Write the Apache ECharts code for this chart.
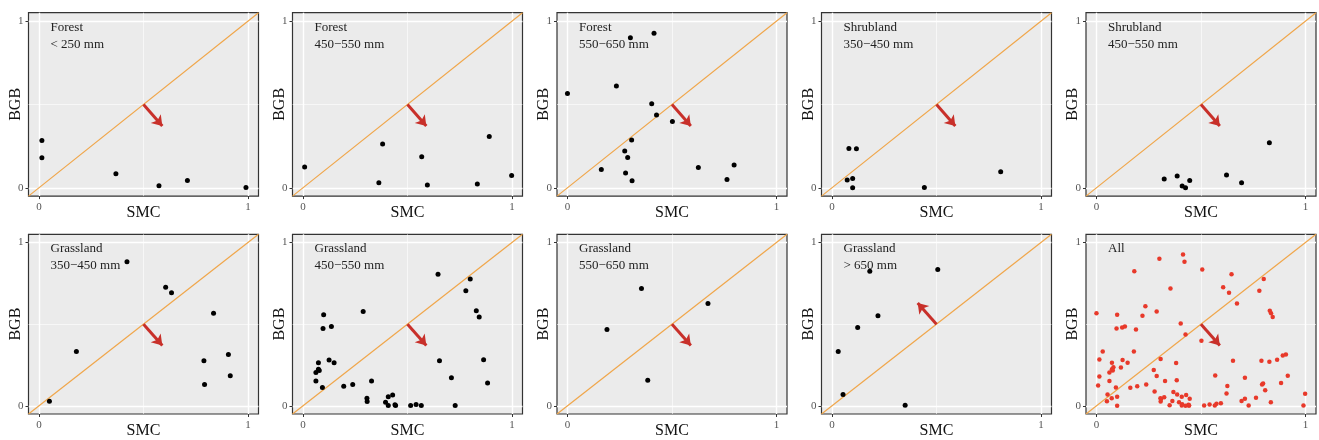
<!DOCTYPE html>
<html>
<head>
<meta charset="utf-8">
<script src="https://cdn.jsdelivr.net/npm/echarts@6/dist/echarts.min.js"></script>
<style>
html,body{margin:0;padding:0;background:#fff;}
#chart{width:1319px;height:440px;}
</style>
</head>
<body>
<div id="chart"></div>
<script>
// ---- data (SMC, BGB) ----
const panelTitles = [
  'Forest\n< 250 mm', 'Forest\n450\u2212550 mm', 'Forest\n550\u2212650 mm',
  'Shrubland\n350\u2212450 mm', 'Shrubland\n450\u2212550 mm',
  'Grassland\n350\u2212450 mm', 'Grassland\n450\u2212550 mm', 'Grassland\n550\u2212650 mm',
  'Grassland\n> 650 mm', 'All'
];
const forestLt250 = [[0.014,0.284],[0.014,0.18],[0.368,0.084],[0.574,0.012],[0.71,0.044],[0.99,0.002]];
const forest450 = [[0.008,0.124],[0.381,0.262],[0.363,0.03],[0.568,0.186],[0.595,0.016],[0.891,0.308],[0.834,0.022],[0.998,0.074]];
const forest550 = [[0,0.566],[0.234,0.61],[0.301,0.9],[0.414,0.926],[0.403,0.504],[0.426,0.436],[0.502,0.398],[0.307,0.286],[0.274,0.22],[0.288,0.182],[0.162,0.11],[0.278,0.088],[0.309,0.042],[0.626,0.122],[0.797,0.136],[0.763,0.05]];
const shrub350 = [[0.081,0.236],[0.117,0.234],[0.073,0.046],[0.099,0.056],[0.099,0],[0.442,0.002],[0.807,0.096]];
const shrub450 = [[0.324,0.052],[0.386,0.07],[0.41,0.01],[0.426,0],[0.446,0.044],[0.622,0.076],[0.694,0.03],[0.827,0.27]];
const grass350 = [[0.05,0.028],[0.179,0.332],[0.421,0.882],[0.606,0.726],[0.634,0.692],[0.835,0.566],[0.789,0.276],[0.906,0.314],[0.792,0.13],[0.915,0.184]];
const grass450 = [[0.646,0.806],[0.8,0.776],[0.779,0.704],[0.829,0.582],[0.843,0.544],[0.288,0.578],[0.099,0.558],[0.096,0.474],[0.136,0.486],[0.653,0.276],[0.864,0.282],[0.074,0.264],[0.125,0.28],[0.149,0.264],[0.074,0.224],[0.078,0.216],[0.062,0.204],[0.062,0.152],[0.093,0.112],[0.195,0.12],[0.238,0.13],[0.328,0.152],[0.71,0.172],[0.883,0.14],[0.306,0.046],[0.307,0.026],[0.395,0.022],[0.408,0.056],[0.429,0.066],[0.408,0.002],[0.44,0.006],[0.443,0.002],[0.515,0.002],[0.541,0.008],[0.566,0.002],[0.728,0.002]];
const grass550 = [[0.354,0.718],[0.189,0.468],[0.672,0.626],[0.384,0.156]];
const grassGt650 = [[0.181,0.824],[0.506,0.834],[0.22,0.552],[0.123,0.48],[0.03,0.332],[0.053,0.07],[0.35,0.004]];
const allPoints = [].concat(forestLt250, forest450, forest550, shrub350, shrub450, grass350, grass450, grass550, grassGt650);
const panelData = [forestLt250, forest450, forest550, shrub350, shrub450, grass350, grass450, grass550, grassGt650, allPoints];
// arrow (start, end) in data units
const arrowDown = [[0.5,0.5],[0.59,0.37]];
const arrowUp = [[0.5,0.5],[0.41,0.63]];
const panelArrows = [arrowDown,arrowDown,arrowDown,arrowDown,arrowDown,arrowDown,arrowDown,arrowDown,arrowUp,arrowDown];
const tickValues = [0, 1];
const axisMin = -0.05, axisMax = 1.05;

// ---- layout ----
const FONT = "'Liberation Serif','Times New Roman',serif";
const colLeft = [28.5, 292.5, 557, 821.5, 1086];
const rowTop = [12.7, 234.3];
const gw = 230, gh = 183.4;

const grids = [], xAxes = [], yAxes = [], series = [], titles = [];
panelData.forEach((pts, i) => {
  const r = Math.floor(i / 5), c = i % 5;
  const L = colLeft[c], T = rowTop[r];
  grids.push({left: L, top: T, width: gw, height: gh, show: true,
    backgroundColor: '#EBEBEB', borderColor: '#333333', borderWidth: 1.2, containLabel: false});
  const common = {
    type: 'value', gridIndex: i, min: axisMin, max: axisMax,
    nameLocation: 'middle', nameMoveOverlap: false,
    nameTextStyle: {fontFamily: FONT, fontSize: 16, color: '#111'},
    axisLine: {show: false, onZero: false},
    axisTick: {show: true, length: 3, customValues: tickValues, lineStyle: {color: '#333', width: 1}},
    axisLabel: {show: true, customValues: tickValues, fontFamily: FONT, fontSize: 11, color: '#555'},
    splitLine: {show: false}
  };
  xAxes.push(Object.assign({}, common, {name: 'SMC', nameGap: 9,
    axisLabel: Object.assign({}, common.axisLabel, {margin: 6})}));
  yAxes.push(Object.assign({}, common, {name: 'BGB', nameGap: 5, nameRotate: 90,
    axisLabel: Object.assign({}, common.axisLabel, {margin: 5})}));
  // grid lines + 1:1 line
  series.push({
    type: 'line', xAxisIndex: i, yAxisIndex: i, z: 1, silent: true,
    data: [[axisMin, axisMin], [axisMax, axisMax]],
    showSymbol: false, symbol: 'none',
    lineStyle: {color: '#F0A64A', width: 1.2},
    markLine: {
      silent: true, symbol: 'none', z: 0, label: {show: false},
      data: [
        {xAxis: 0, lineStyle: {color: '#fff', width: 1.4, type: 'solid'}},
        {xAxis: 1, lineStyle: {color: '#fff', width: 1.4, type: 'solid'}},
        {xAxis: 0.5, lineStyle: {color: '#fff', width: 0.6, type: 'solid'}},
        {yAxis: 0, lineStyle: {color: '#fff', width: 1.4, type: 'solid'}},
        {yAxis: 1, lineStyle: {color: '#fff', width: 1.4, type: 'solid'}},
        {yAxis: 0.5, lineStyle: {color: '#fff', width: 0.6, type: 'solid'}}
      ]
    }
  });
  // arrow
  const a = panelArrows[i];
  series.push({
    type: 'line', xAxisIndex: i, yAxisIndex: i, z: 2, silent: true,
    data: [], symbol: 'none',
    markLine: {
      silent: true, symbol: ['none', 'arrow'], symbolSize: [10, 10], label: {show: false},
      lineStyle: {color: '#C8302A', width: 3, type: 'solid'},
      data: [[{coord: a[0]}, {coord: a[1]}]]
    }
  });
  // points
  series.push({
    type: 'scatter', xAxisIndex: i, yAxisIndex: i, z: 3,
    data: pts, symbolSize: i === 9 ? 4.5 : 5,
    itemStyle: {color: i === 9 ? '#E8392A' : '#000', opacity: 1}
  });
  titles.push({
    text: panelTitles[i], left: L + 22, top: T + 6, padding: 0,
    textStyle: {fontFamily: FONT, fontSize: 13, fontWeight: 'normal', color: '#222', lineHeight: 17}
  });
});

const chart = echarts.init(document.getElementById('chart'), null, {renderer: 'canvas'});
chart.setOption({
  animation: false,
  backgroundColor: '#fff',
  title: titles,
  grid: grids, xAxis: xAxes, yAxis: yAxes, series: series
});
</script>
</body>
</html>
